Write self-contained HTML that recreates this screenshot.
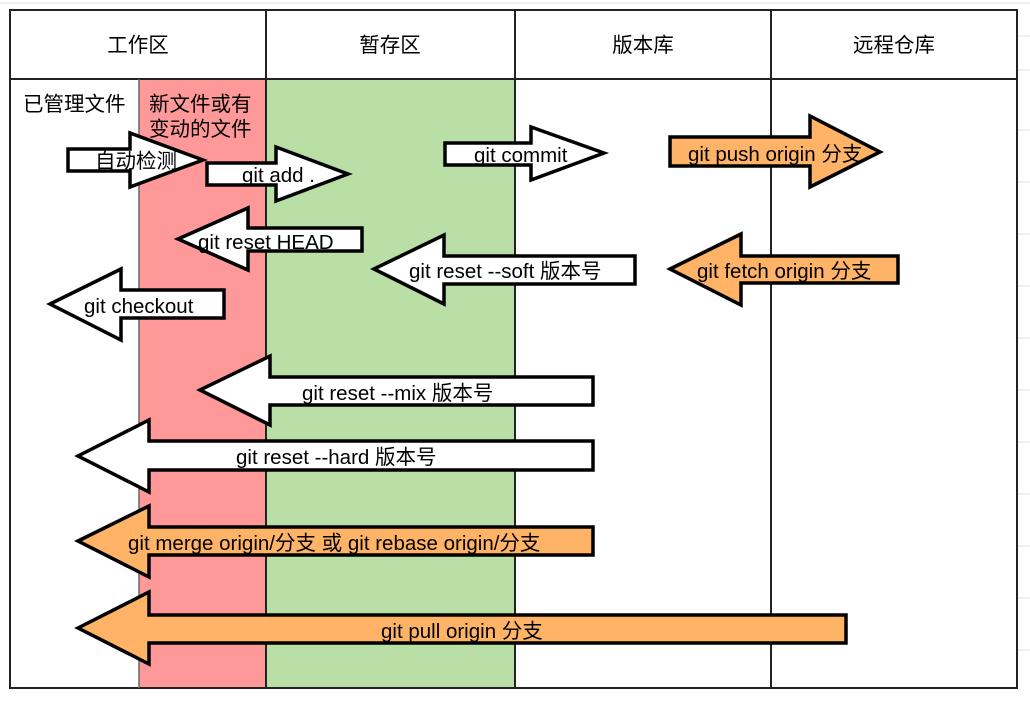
<!DOCTYPE html>
<html><head><meta charset="utf-8"><style>
html,body{margin:0;padding:0;background:#fff;}
svg text{font-family:"Liberation Sans","Noto Sans CJK SC",sans-serif;font-size:20.5px;fill:#000;}
</style></head><body>
<svg width="1030" height="699" viewBox="0 0 1030 699" xmlns="http://www.w3.org/2000/svg">
<g stroke="#e2e2e2" stroke-width="1">
<line x1="0" y1="3" x2="1030" y2="3"/>
<line x1="1018" y1="36" x2="1030" y2="36"/><line x1="1018" y1="70" x2="1030" y2="70"/>
<line x1="1018" y1="130" x2="1030" y2="130"/><line x1="1018" y1="182" x2="1030" y2="182"/>
<line x1="1018" y1="234" x2="1030" y2="234"/><line x1="1018" y1="286" x2="1030" y2="286"/>
<line x1="1018" y1="338" x2="1030" y2="338"/><line x1="1018" y1="390" x2="1030" y2="390"/>
<line x1="1018" y1="442" x2="1030" y2="442"/><line x1="1018" y1="494" x2="1030" y2="494"/>
<line x1="1018" y1="546" x2="1030" y2="546"/><line x1="1018" y1="598" x2="1030" y2="598"/>
<line x1="1018" y1="650" x2="1030" y2="650"/>
</g>
<rect x="139" y="79" width="127" height="609" fill="#ff9999"/>
<rect x="266" y="79" width="249" height="609" fill="#b9dfa6"/>
<g stroke="#222" stroke-width="2" fill="none">
<rect x="10" y="10" width="1007" height="678"/>
<line x1="10" y1="79" x2="1017" y2="79"/>
<line x1="266" y1="10" x2="266" y2="688"/>
<line x1="515" y1="10" x2="515" y2="688"/>
<line x1="771" y1="10" x2="771" y2="688"/>
<line x1="139" y1="79" x2="139" y2="688" stroke="#666" stroke-width="1.5"/>
</g>
<text x="138" y="52" text-anchor="middle">工作区</text>
<text x="390" y="52" text-anchor="middle">暂存区</text>
<text x="643" y="52" text-anchor="middle">版本库</text>
<text x="894" y="52" text-anchor="middle">远程仓库</text>
<text x="23" y="111">已管理文件</text>
<text x="149" y="111">新文件或有</text>
<text x="149" y="136">变动的文件</text>
<g stroke="#000" stroke-width="3.5" stroke-linejoin="miter">
<polygon fill="#fff" points="68,149 130,149 130,133 203,160 130,187 130,171 68,171"/>
<polygon fill="#fff" points="207,163 276,163 276,147 348,174 276,201 276,185 207,185"/>
<polygon fill="#fff" points="445,143 531,143 531,127 604,153 531,180 531,165 445,165"/>
<polygon fill="#ffb366" points="670,137 810,137 810,116 880,152 810,187 810,166 670,166"/>
<polygon fill="#fff" points="178,239 248,208 248,228 362,228 362,251 248,251 248,270"/>
<polygon fill="#fff" points="50,304 121,269 121,290 224,290 224,318 121,318 121,340"/>
<polygon fill="#fff" points="374,269 444,235 444,256 635,256 635,284 444,284 444,304"/>
<polygon fill="#ffb366" points="670,269 741,234 741,256 898,256 898,283 741,283 741,305"/>
<polygon fill="#fff" points="200,390 270,356 270,377 593,377 593,405 270,405 270,425"/>
<polygon fill="#fff" points="78,456 149,420 149,441 593,441 593,470 149,470 149,492"/>
<polygon fill="#ffb366" points="78,541 149,506 149,527 593,527 593,555 149,555 149,577"/>
<polygon fill="#ffb366" points="78,628 149,592 149,615 846,615 846,643 149,643 149,664"/>
</g>
<text x="95" y="168">自动检测</text>
<text x="242" y="182">git add .</text>
<text x="474" y="162">git commit</text>
<text x="688" y="161">git push origin 分支</text>
<text x="198" y="249">git reset HEAD</text>
<text x="84" y="313">git checkout</text>
<text x="409" y="278">git reset --soft 版本号</text>
<text x="697" y="278">git fetch origin 分支</text>
<text x="302" y="400">git reset --mix 版本号</text>
<text x="236" y="464">git reset --hard 版本号</text>
<text x="128" y="550">git merge origin/分支 或 git rebase origin/分支</text>
<text x="381" y="638">git pull origin 分支</text>
</svg>
</body></html>
